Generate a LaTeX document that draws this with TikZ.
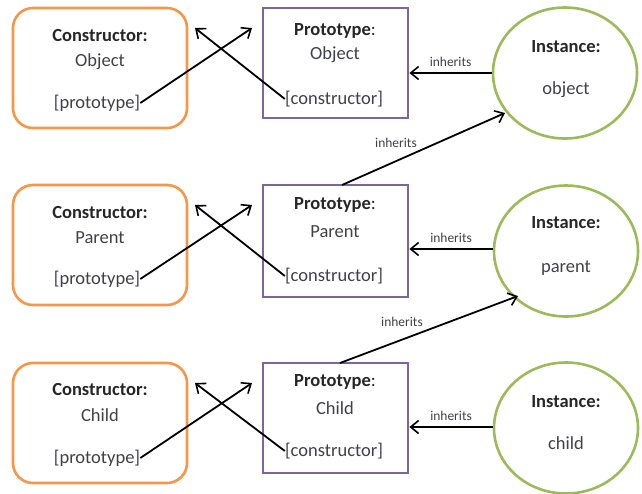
\documentclass[tikz,border=0pt]{standalone}
\usepackage{fontspec}
\setmainfont{Carlito}
\usetikzlibrary{arrows.meta,shapes.geometric}
\definecolor{corange}{HTML}{F79646}
\definecolor{cpurple}{HTML}{8064A2}
\definecolor{cgreen}{HTML}{9BBB59}
\definecolor{ctext}{HTML}{404048}
\tikzset{
  cbox/.style={draw=corange, line width=2.6pt, rounded corners=20pt, minimum width=174pt, minimum height=120pt, inner sep=0pt},
  pbox/.style={draw=cpurple, line width=2.8pt, minimum width=145pt, inner sep=0pt},
  ibox/.style={draw=cgreen, line width=2.6pt, ellipse, minimum width=144pt, minimum height=131pt, inner sep=0pt},
  head/.style={font=\fontsize{18.5}{20}\selectfont\bfseries, text=black!85, inner sep=0pt},
  body/.style={font=\fontsize{18.5}{20}\selectfont, text=ctext, inner sep=0pt},
  lab/.style={font=\fontsize{13.5}{15}\selectfont, text=ctext, inner sep=0pt},
  arr/.style={line width=1.8pt, -{Straight Barb[length=8pt,width=13pt,line width=1.6pt]}},
}
\begin{document}
\begin{tikzpicture}[x=1pt,y=-1pt]
\useasboundingbox (0,0) rectangle (642,493);
% ---------- Row 1 ----------
\node[cbox] (c1) at (100,68) {};
\node[pbox, minimum height=110pt] (p1) at (335.5,63) {};
\node[ibox] (i1) at (565,73) {};
\node[head] (c1h) at (100,35) {Constructor:};
\node[body] (c1n) at (100,62) {Object};
\node[body] (c1p) at (97,103) {[prototype]};
\node[head] (p1h) at (335,31) {Prototype\textmd{:}};
\node[body] (p1n) at (335,55) {Object};
\node[body] (p1c) at (334,99) {[constructor]};
\node[head] (i1h) at (566,47) {Instance:};
\node[body] (i1n) at (566,90) {object};
\coordinate (a1) at (252,28);
\coordinate (b1) at (195,28);
\draw[arr] (c1p.east) -- (a1);
\draw[arr] (p1c.west) -- (b1);
\draw[arr] (i1.west |- 0,73) -- (p1.east |- 0,73) node[lab, midway, above=6pt] (l1) {inherits};
% ---------- Row 2 ----------
\node[cbox] (c2) at (100,245) {};
\node[pbox, minimum height=112pt] (p2) at (335.5,241) {};
\node[ibox] (i2) at (566,251) {};
\node[head] (c2h) at (100,212) {Constructor:};
\node[body] (c2n) at (100,238) {Parent};
\node[body] (c2p) at (97,279) {[prototype]};
\node[head] (p2h) at (335,205) {Prototype\textmd{:}};
\node[body] (p2n) at (335,232) {Parent};
\node[body] (p2c) at (334,276) {[constructor]};
\node[head] (i2h) at (566,223) {Instance:};
\node[body] (i2n) at (566,268) {parent};
\coordinate (a2) at (252,205);
\coordinate (b2) at (195,205);
\draw[arr] (c2p.east) -- (a2);
\draw[arr] (p2c.west) -- (b2);
\draw[arr] (i2.west |- 0,249) -- (p2.east |- 0,249) node[lab, midway, above=6pt] (l2) {inherits};
\coordinate (s2) at (342,185);
\coordinate (e1) at (505,113);
\draw[arr] (s2) -- (e1);
\node[lab] (l12) at (396,143) {inherits};
% ---------- Row 3 ----------
\node[cbox] (c3) at (100,423) {};
\node[pbox, minimum height=110pt] (p3) at (335.5,418) {};
\node[ibox] (i3) at (566,428) {};
\node[head] (c3h) at (100,389) {Constructor:};
\node[body] (c3n) at (100,415) {Child};
\node[body] (c3p) at (97,458) {[prototype]};
\node[head] (p3h) at (335,382) {Prototype\textmd{:}};
\node[body] (p3n) at (335,408) {Child};
\node[body] (p3c) at (334,451) {[constructor]};
\node[head] (i3h) at (566,402) {Instance:};
\node[body] (i3n) at (566,443) {child};
\coordinate (a3) at (252,383);
\coordinate (b3) at (195,383);
\draw[arr] (c3p.east) -- (a3);
\draw[arr] (p3c.west) -- (b3);
\draw[arr] (i3.west |- 0,427) -- (p3.east |- 0,427) node[lab, midway, above=6pt] (l3) {inherits};
\coordinate (s3) at (340,363);
\coordinate (e2) at (518,296);
\draw[arr] (s3) -- (e2);
\node[lab] (l23) at (402,322) {inherits};
\end{tikzpicture}
\end{document}
